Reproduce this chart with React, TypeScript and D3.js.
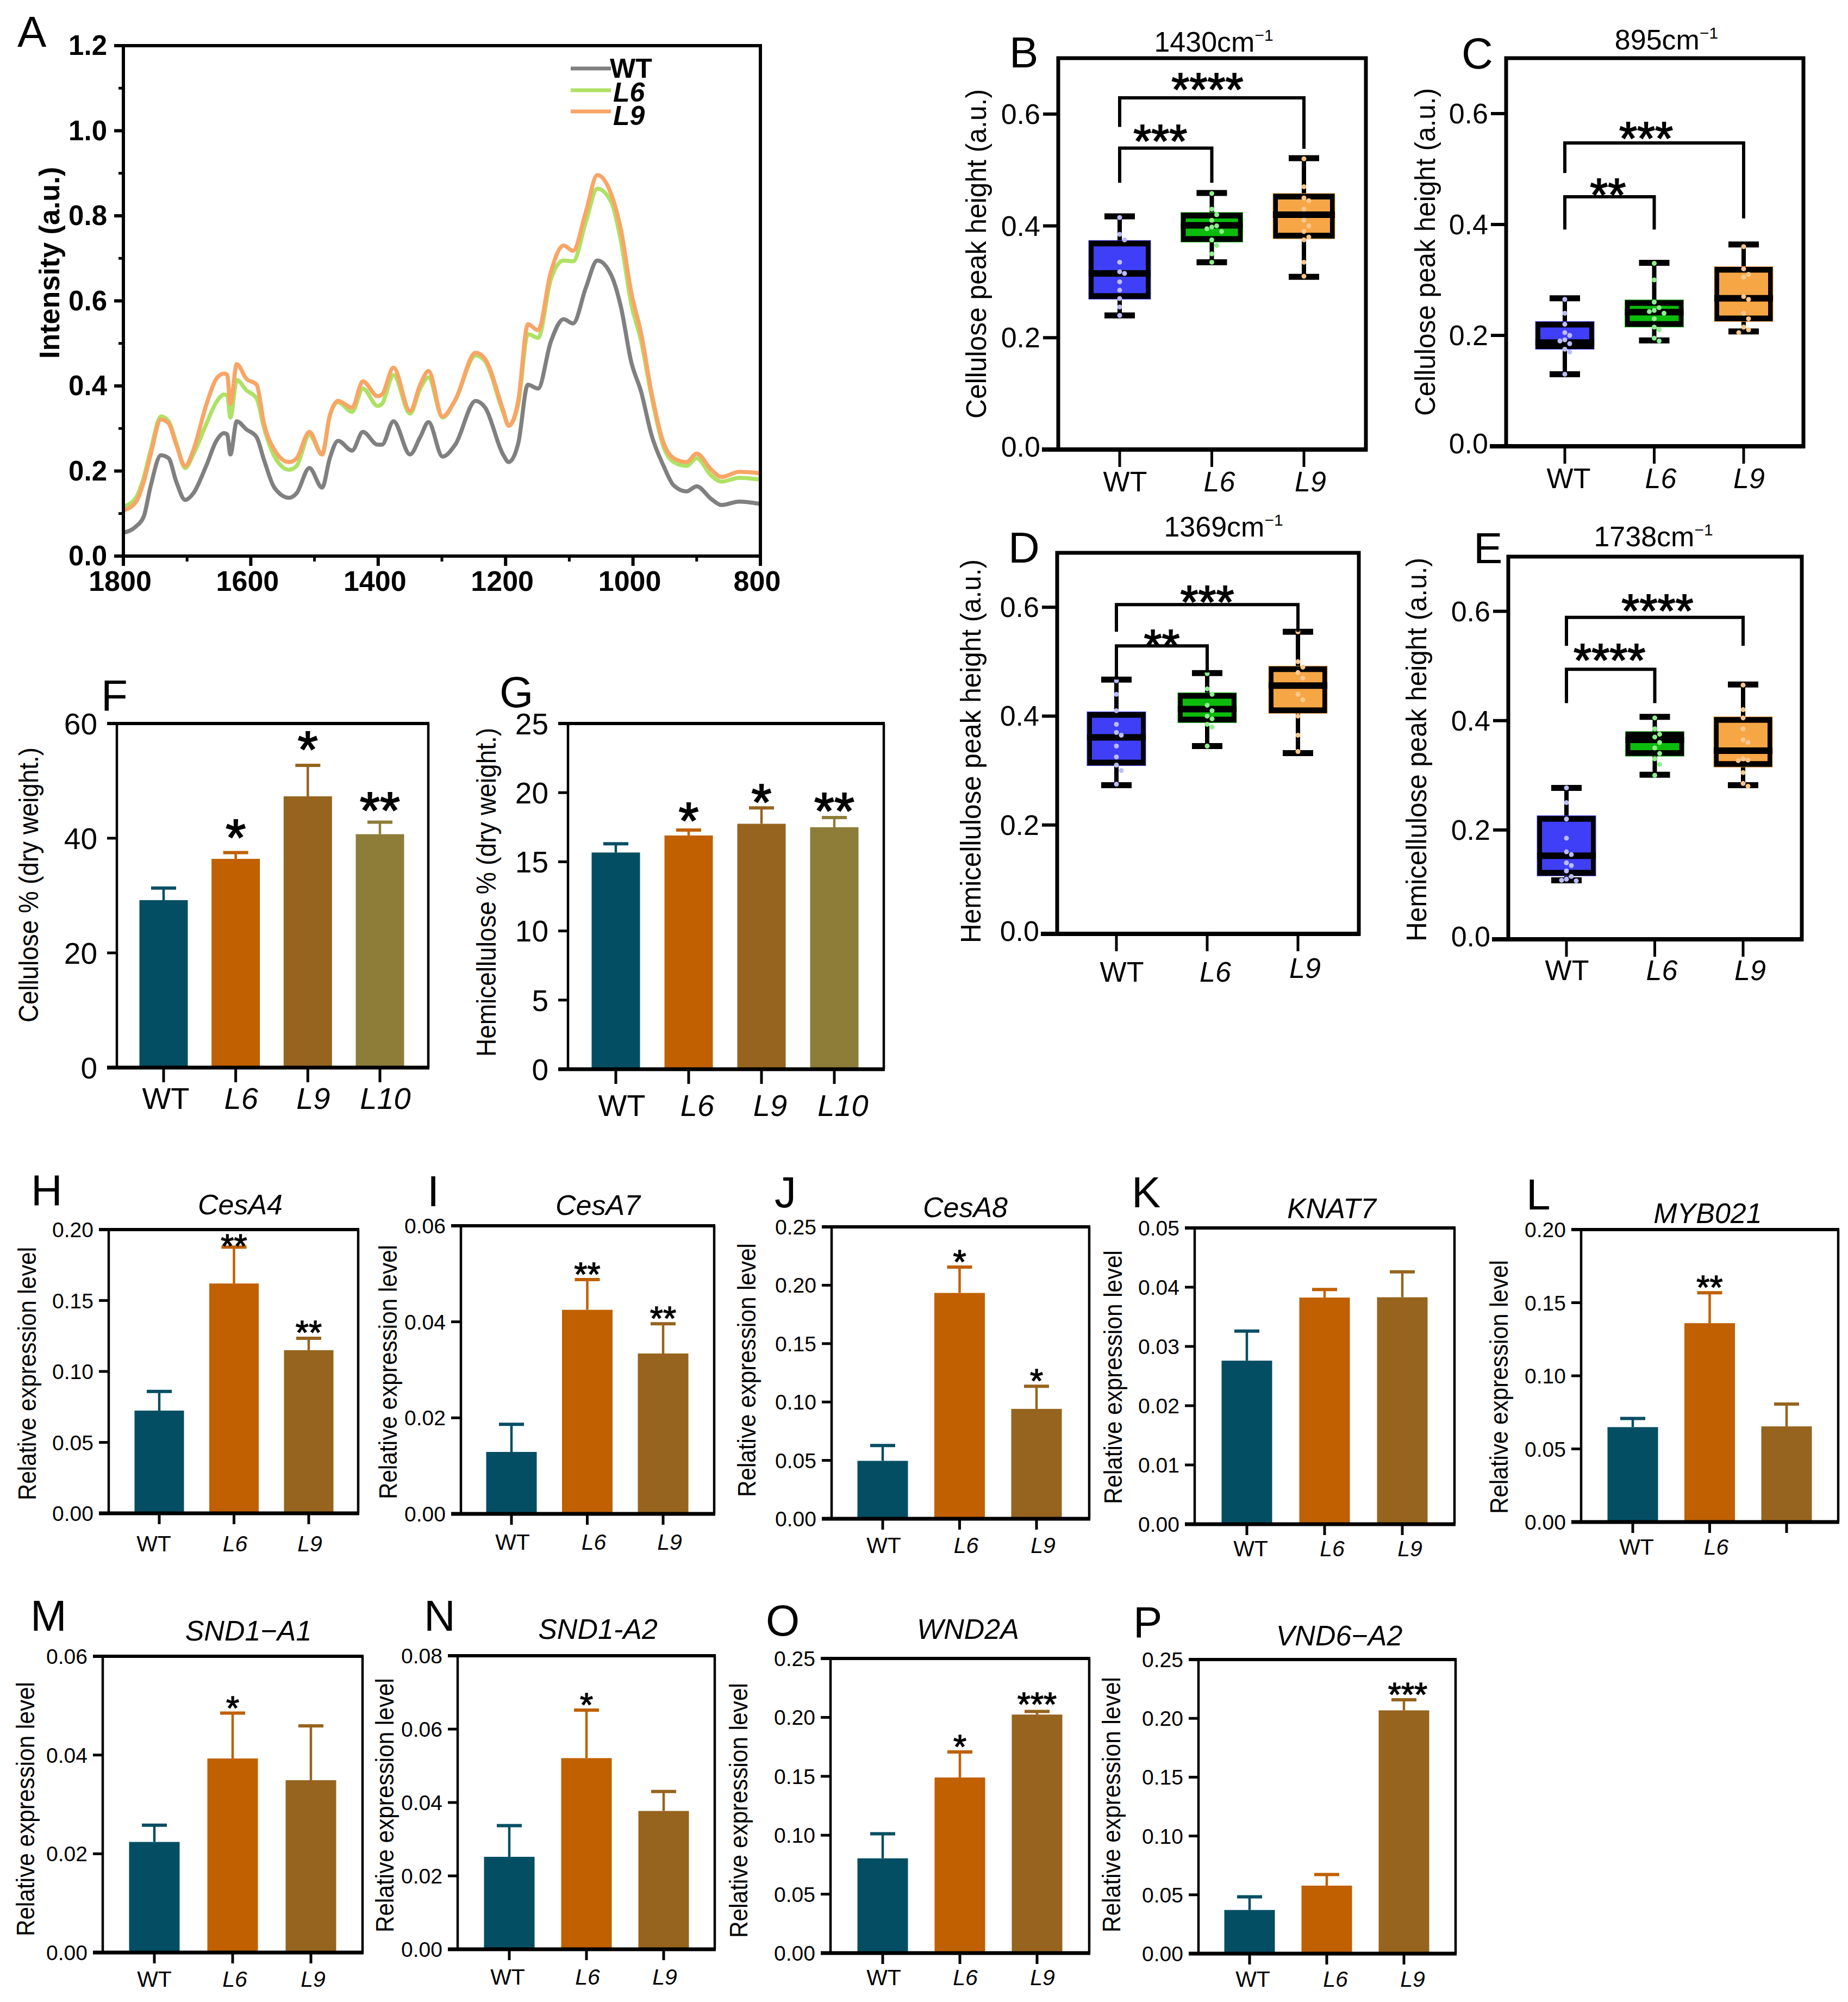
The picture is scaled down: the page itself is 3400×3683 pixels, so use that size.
import React from "react";
import * as d3 from "d3";

const FONT = "'Liberation Sans', Arial, sans-serif";

// ---------- Panel A data ----------
const wavenumbers = [1800,1780,1768,1757,1741,1729,1717,1703,1690,1670,1654,1642,1637,1632,1622,1607,1591,1579,1563,1540,1528,1508,1488,1476,1463,1441,1424,1401,1394,1376,1350,1334,1321,1299,1279,1247,1232,1204,1195,1180,1165,1149,1129,1109,1094,1074,1056,1034,1019,1003,987,971,952,936,916,900,877,861,833,802];
const spectrumWT = [.055,.07,.093,.166,.237,.23,.175,.132,.148,.212,.271,.289,.286,.239,.317,.298,.28,.225,.161,.137,.148,.207,.161,.23,.271,.248,.292,.262,.262,.317,.239,.28,.315,.234,.262,.365,.349,.239,.221,.266,.403,.394,.504,.557,.547,.631,.695,.66,.586,.458,.385,.285,.212,.166,.152,.164,.134,.12,.128,.123];
const spectrumL6 = [.116,.138,.185,.25,.328,.317,.266,.207,.24,.31,.362,.38,.378,.326,.414,.39,.371,.30,.235,.203,.212,.285,.239,.33,.362,.339,.394,.353,.358,.426,.335,.394,.42,.326,.367,.472,.458,.339,.307,.358,.522,.513,.65,.695,.693,.786,.864,.832,.741,.595,.504,.376,.257,.221,.212,.23,.189,.175,.184,.18];
const spectrumL9 = [.107,.128,.175,.24,.321,.312,.262,.212,.25,.355,.417,.429,.426,.358,.451,.417,.403,.31,.25,.221,.23,.292,.239,.33,.365,.349,.411,.376,.38,.443,.341,.403,.435,.328,.367,.478,.463,.344,.306,.367,.545,.531,.668,.73,.718,.809,.896,.85,.768,.622,.522,.385,.266,.23,.221,.241,.203,.186,.198,.195];
const spectrumTicksY = [0,.2,.4,.6,.8,1,1.2];
const spectrumMinorY = [.1,.3,.5,.7,.9,1.1];
const spectrumTicksX = [1800,1600,1400,1200,1000,800];
const spectrumMinorX = [1700,1500,1300,1100,900];

// ---------- Box plots: [low, q1, median, q3, high] per line ----------
const cats3 = ["WT","L6","L9"];
const cats4 = ["WT","L6","L9","L10"];
const boxColors = ["#3f3ff8","#0cbc0c","#f7a645"];
const dotColors = ["#bcbcff","#90ee90","#fac78f"];
const boxTicks = [0,.2,.4,.6];

const b1430Stats = [[.24,.269,.315,.374,.417],[.335,.371,.401,.424,.459],[.309,.377,.42,.458,.521]];
const b1430Dots = [[.415,.385,.375,.335,.318,.315,.3,.285,.27,.255,.24],[.458,.43,.42,.41,.40,.398,.395,.39,.375,.365,.35,.335],[.52,.47,.45,.445,.43,.41,.40,.39,.38,.375,.335,.31]];
const b895Stats = [[.13,.175,.187,.225,.267],[.191,.215,.242,.264,.331],[.207,.225,.267,.324,.364]];
const b895Dots = [[.265,.24,.22,.205,.2,.192,.19,.185,.175,.17,.13],[.33,.3,.26,.25,.245,.243,.24,.23,.215,.21,.195,.19],[.36,.32,.31,.305,.27,.265,.24,.23,.215,.21,.205]];
const b1369Stats = [[.273,.309,.361,.408,.467],[.345,.388,.413,.443,.479],[.332,.405,.456,.492,.555]];
const b1369Dots = [[.465,.44,.41,.385,.37,.365,.345,.325,.31,.3,.275],[.478,.45,.44,.42,.41,.40,.395,.385,.38,.345],[.555,.5,.49,.48,.47,.44,.43,.40,.365,.335]];
const b1738Stats = [[.108,.116,.153,.226,.277],[.301,.335,.365,.38,.407],[.282,.315,.345,.407,.466]];
const b1738Dots = [[.277,.25,.22,.185,.16,.155,.14,.135,.125,.115,.11,.108,.107],[.405,.385,.375,.37,.36,.35,.34,.33,.32,.3],[.465,.42,.405,.385,.365,.36,.33,.328,.327,.305,.285,.28]];

// brackets: [fromIndex, toIndex, top value, left end, right end]
const b1430Brackets = [[0,2,.629,.577,.538],[0,1,.539,.477,.477]];
const b895Brackets = [[0,2,.547,.493,.411],[0,1,.45,.391,.391]];
const b1369Brackets = [[0,2,.605,.555,.555],[0,1,.529,.467,.48]];
const b1738Brackets = [[0,2,.589,.537,.537],[0,1,.494,.432,.432]];
const b1430Marks = ["****","***"];
const b895Marks = ["***","**"];
const b1369Marks = ["***","**"];
const b1738Marks = ["****","****"];

// ---------- Bars: means, errors, significance ----------
const cellMeans = [29.2,36.4,47.3,40.7];
const cellErrs = [2.1,1.1,5.4,2.1];
const cellMarks = ["","*","*","**"];
const cellTicks = [0,20,40,60];
const hemiMeans = [15.67,16.9,17.75,17.5];
const hemiErrs = [.63,.4,1.15,.7];
const hemiMarks = ["","*","*","**"];
const hemiTicks = [0,5,10,15,20,25];

const cesA4Means = [.0724,.162,.115]; const cesA4Errs = [.0135,.0256,.0084]; const cesA4Marks = ["","**","**"];
const cesA7Means = [.0129,.0425,.0334]; const cesA7Errs = [.00575,.0063,.0062]; const cesA7Marks = ["","**","**"];
const cesA8Means = [.0496,.1934,.0941]; const cesA8Errs = [.0131,.0221,.0194]; const cesA8Marks = ["","*","*"];
const knat7Means = [.0276,.03825,.0383]; const knat7Errs = [.005,.00135,.0043]; const knat7Marks = ["","",""];
const myb021Means = [.0649,.136,.0654]; const myb021Errs = [.0059,.0208,.0153]; const myb021Marks = ["","**",""];
const snd1a1Means = [.0224,.0393,.0349]; const snd1a1Errs = [.0034,.0092,.011]; const snd1a1Marks = ["","*",""];
const snd1a2Means = [.0252,.0521,.0377]; const snd1a2Errs = [.0085,.0131,.0053]; const snd1a2Marks = ["","*",""];
const wnd2aMeans = [.0804,.149,.2024]; const wnd2aErrs = [.0209,.0217,.0026]; const wnd2aMarks = ["","*","***"];
const vnd6a2Means = [.0371,.0578,.2068]; const vnd6a2Errs = [.0112,.0094,.009]; const vnd6a2Marks = ["","","***"];

const barColors = ["#034e63","#c06000","#96641e","#8d7d38"];
const ticks020 = [0,.05,.10,.15,.20];
const ticks006 = [0,.02,.04,.06];
const ticks025 = [0,.05,.10,.15,.20,.25];
const ticks005 = [0,.01,.02,.03,.04,.05];
const ticks008 = [0,.02,.04,.06,.08];
const labelsNoL9 = ["WT","L6",""];

const midText = (x: number, cy: number, s: string, fs: number, extra: any = {}) => (
  <text x={x} y={cy + fs * 0.358} fontSize={fs} textAnchor="middle" fontFamily={FONT} fill="#000" {...extra}>{s}</text>
);
const Stars = ({ x, cy, s, fs }: any) => (
  <text x={x} y={cy + fs * 0.52} fontSize={fs} textAnchor="middle" fontFamily={FONT} fill="#000" stroke="#000" strokeWidth={fs * 0.022}>{s}</text>
);
const YLabel = ({ x, y1, y2, s, fs, bold }: any) => (
  <text transform={`translate(${x},${(y1 + y2) / 2}) rotate(-90)`} y={fs * 0.36} textAnchor="middle" fontSize={fs}
    fontFamily={FONT} fontWeight={bold ? 700 : 400} textLength={y2 - y1} lengthAdjust="spacingAndGlyphs" fill="#000">{s}</text>
);
const PanelTag = ({ s, x, y }: any) => (
  <text x={x} y={y} fontSize={80} fontFamily={FONT} fill="#000">{s}</text>
);
const catLabel = (c: string, x: number, cy: number, fs: number, key: any) =>
  <g key={key}>{midText(x, cy, c, fs, { fontStyle: c === "WT" ? "normal" : "italic" })}</g>;

function SpectrumPanel() {
  const L = 227, R = 1399, T = 84, B = 1023;
  const x = d3.scaleLinear().domain([1800, 800]).range([L, R]);
  const y = d3.scaleLinear().domain([0, 1.2]).range([B, T]);
  const line = (vals: number[]) =>
    d3.line<number>().x((_, i) => x(wavenumbers[i])).y(d => y(d)).curve(d3.curveMonotoneX)(vals) || "";
  const series: [number[], string][] = [[spectrumWT, "#808080"], [spectrumL6, "#aee264"], [spectrumL9, "#f8a566"]];
  const legend = [["WT", 126, 143, 1122, "normal", "#808080"], ["L6", 166, 187, 1128, "italic", "#aee264"], ["L9", 205, 230, 1128, "italic", "#f8a566"]] as const;
  return (
    <g>
      {series.map(([v, c], i) => <path key={i} d={line(v)} fill="none" stroke={c} strokeWidth={7.5} strokeLinejoin="round" />)}
      <rect x={L} y={T} width={R - L} height={B - T} fill="none" stroke="#000" strokeWidth={6} />
      {spectrumTicksY.map(t => <g key={t}>
        <line x1={L - 17} x2={L} y1={y(t)} y2={y(t)} stroke="#000" strokeWidth={6} />
        <text x={197} y={y(t) + 17} fontSize={51} fontWeight={700} fontFamily={FONT} textAnchor="end">{t.toFixed(1)}</text>
      </g>)}
      {spectrumMinorY.map(t => <line key={t} x1={L - 9} x2={L} y1={y(t)} y2={y(t)} stroke="#000" strokeWidth={5} />)}
      {spectrumTicksX.map(t => <g key={t}>
        <line x1={x(t)} x2={x(t)} y1={B} y2={B + 18} stroke="#000" strokeWidth={6} />
        <text x={x(t) - 6} y={1087} fontSize={52} fontWeight={700} fontFamily={FONT} textAnchor="middle">{t}</text>
      </g>)}
      {spectrumMinorX.map(t => <line key={t} x1={x(t)} x2={x(t)} y1={B} y2={B + 10} stroke="#000" strokeWidth={5} />)}
      <YLabel x={91} y1={307} y2={660} s="Intensity (a.u.)" fs={51} bold />
      {legend.map(([s, ly, by, tx, st, c]) => <g key={s}>
        <line x1={1050} x2={1124} y1={ly} y2={ly} stroke={c} strokeWidth={7} />
        <text x={tx} y={by} fontSize={50} fontWeight={700} fontStyle={st} fontFamily={FONT}>{s}</text>
      </g>)}
    </g>
  );
}

function dodge(vals: number[], thresh: number, step: number) {
  const placed: { v: number; o: number }[] = [];
  vals.forEach(v => {
    const candidates = [0, step, -step, 2 * step, -2 * step];
    const o = candidates.find(c => !placed.some(p => p.o === c && Math.abs(p.v - v) < thresh));
    placed.push({ v, o: o === undefined ? 0 : o });
  });
  return placed;
}

function BoxPanel({ l, stats, dots, brackets, marks, cats, yLabel, title }: any) {
  const x = d3.scalePoint<string>().domain(cats).range([l.x0, l.x2]);
  const y = d3.scaleLinear().domain([0, .7]).range([l.B, l.T]);
  const bw = l.bw;
  return (
    <g>
      <rect x={l.L} y={l.T} width={l.R - l.L} height={l.B - l.T} fill="none" stroke="#000" strokeWidth={7} />
      <line x1={l.L - 30} x2={l.R + 3} y1={l.B} y2={l.B} stroke="#000" strokeWidth={8} />
      {boxTicks.map(t => <g key={t}>
        <line x1={l.L - 28} x2={l.L} y1={y(t)} y2={y(t)} stroke="#000" strokeWidth={6} />
        <text x={l.L - 33} y={y(t) + 18 - (t === 0 ? 5 : 0)} fontSize={52} fontFamily={FONT} textAnchor="end">{t.toFixed(1)}</text>
      </g>)}
      {cats.map((c: string, i: number) => {
        const cx = x(c)!; const [lo, q1, med, q3, hi] = stats[i];
        return <g key={c}>
          <line x1={cx} x2={cx} y1={l.B} y2={l.B + 32} stroke="#000" strokeWidth={5} />
          {catLabel(c, cx + l.labDx[i], l.labY[i], 52, "l")}
          <line x1={cx} x2={cx} y1={y(hi)} y2={y(lo)} stroke="#000" strokeWidth={8} />
          <line x1={cx - 28} x2={cx + 28} y1={y(hi)} y2={y(hi)} stroke="#000" strokeWidth={11} />
          <line x1={cx - 28} x2={cx + 28} y1={y(lo)} y2={y(lo)} stroke="#000" strokeWidth={11} />
          <rect x={cx - bw / 2} y={y(q3)} width={bw} height={y(q1) - y(q3)} fill="#000" stroke={boxColors[i]} strokeWidth={1} />
          <rect x={cx - bw / 2 + 9} y={y(q3) + 11} width={bw - 18} height={Math.max(0, y(q1) - y(q3) - 22)} fill={boxColors[i]} />
          <line x1={cx - bw / 2} x2={cx + bw / 2} y1={y(med)} y2={y(med)} stroke="#000" strokeWidth={12} />
          {dodge(dots[i], .011, 9).map((p, k) => <circle key={k} cx={cx + p.o} cy={y(p.v)} r={4.5} fill={dotColors[i]} />)}
        </g>;
      })}
      {brackets.map((b: number[], i: number) => {
        const xa = x(cats[b[0]])!, xb = x(cats[b[1]])!;
        const d = `M${xa},${y(b[3])}V${y(b[2])}H${xb}V${y(b[4])}`;
        return <g key={i}>
          <path d={d} fill="none" stroke="#000" strokeWidth={6} />
          <Stars x={(xa + xb) / 2 + l.markDx[i]} cy={y(b[2]) - l.markGap[i]} s={marks[i]} fs={85} />
        </g>;
      })}
      <text x={l.titleX} y={l.titleCy + 17} fontSize={52} fontFamily={FONT} textAnchor="middle">{title}<tspan fontSize={30} dy={-20}>−1</tspan></text>
      <YLabel x={l.yLabX} y1={l.y1} y2={l.y2} s={yLabel} fs={52} />
    </g>
  );
}

function BarPanel({ l, cats, labels, means, errs, marks, ticks, fmt, yLabel, title, fs }: any) {
  const x = d3.scalePoint<string>().domain(cats).range([l.x0, l.xn]);
  const yMax = ticks[ticks.length - 1];
  const y = d3.scaleLinear().domain([0, yMax]).range([l.B, l.T]);
  const bw = l.bw ?? 93;
  return (
    <g>
      {cats.map((c: string, i: number) => {
        const cx = x(c)!; const top = y(means[i]); const capY = y(means[i] + errs[i]);
        const lab = (labels || cats)[i];
        const gap = l.gaps ? l.gaps[i] : 21;
        return <g key={c}>
          <line x1={cx} x2={cx} y1={top} y2={capY} stroke={barColors[i]} strokeWidth={4.5} />
          <line x1={cx - 23} x2={cx + 23} y1={capY} y2={capY} stroke={barColors[i]} strokeWidth={6} />
          <rect x={cx - bw / 2} y={top} width={bw} height={l.B - top} fill={barColors[i]} />
          <line x1={cx} x2={cx} y1={l.B} y2={l.B + l.tickLen} stroke="#000" strokeWidth={5} />
          {lab && catLabel(lab, cx + (lab === "WT" ? l.wtDx : l.lDx), l.labY, fs.cat, "l")}
          {marks[i] && <Stars x={cx + (l.starDx ?? 0)} cy={capY - gap} s={marks[i]} fs={fs.star} />}
        </g>;
      })}
      <line x1={l.L} x2={l.L} y1={l.T} y2={l.B} stroke="#000" strokeWidth={4.5} />
      <line x1={l.R} x2={l.R} y1={l.T} y2={l.B} stroke="#000" strokeWidth={4.5} />
      <line x1={l.L - 18} x2={l.R + 2} y1={l.T} y2={l.T} stroke="#000" strokeWidth={6} />
      <line x1={l.L - 18} x2={l.R + 2} y1={l.B} y2={l.B} stroke="#000" strokeWidth={7} />
      {ticks.map((t: number) => <g key={t}>
        <line x1={l.L - 18} x2={l.L} y1={y(t)} y2={y(t)} stroke="#000" strokeWidth={5} />
        <text x={l.L - fs.tickGap} y={y(t) + fs.tick * .36} fontSize={fs.tick} fontFamily={FONT} textAnchor="end">{fmt(t)}</text>
      </g>)}
      {title && midText(l.titleX, l.titleCy, title, 52, { fontStyle: "italic" })}
      <YLabel x={l.yLabX} y1={l.y1} y2={l.y2} s={yLabel} fs={fs.ylab} />
    </g>
  );
}

const f2 = (t: number) => t.toFixed(2);
const f0 = (t: number) => String(t);
const geneFs = { cat: 41, tick: 39, tickGap: 28, star: 62, ylab: 46 };
const compFs = { cat: 56, tick: 55, tickGap: 36, star: 95, ylab: 50 };
const REL = "Relative expression level";

export default function App() {
  return (
    <svg width={3400} height={3683} viewBox="0 0 3400 3683" style={{ position: "absolute", left: 0, top: 0, display: "block", background: "#fff" }}>
      <SpectrumPanel />
      <BoxPanel stats={b1430Stats} dots={b1430Dots} brackets={b1430Brackets} marks={b1430Marks} cats={cats3} title="1430cm" yLabel="Cellulose peak height (a.u.)"
        l={{ L: 1947, R: 2513, T: 107, B: 827, x0: 2060, x2: 2399, bw: 114, labDx: [10, 14, 12], labY: [885, 885, 885], markDx: [-8, -10], markGap: [30, 28], titleX: 2233, titleCy: 78, yLabX: 1795, y1: 164, y2: 770 }} />
      <BoxPanel stats={b895Stats} dots={b895Dots} brackets={b895Brackets} marks={b895Marks} cats={cats3} title="895cm" yLabel="Cellulose peak height (a.u.)"
        l={{ L: 2771, R: 3318, T: 107, B: 821, x0: 2879, x2: 3208, bw: 108, labDx: [7, 12, 10], labY: [879, 879, 879], markDx: [-15, -3], markGap: [23, 18], titleX: 3066, titleCy: 74, yLabX: 2621, y1: 162, y2: 765 }} />
      <BoxPanel stats={b1369Stats} dots={b1369Dots} brackets={b1369Brackets} marks={b1369Marks} cats={cats3} title="1369cm" yLabel="Hemicellulose peak height (a.u.)"
        l={{ L: 1945, R: 2500, T: 1017, B: 1718, x0: 2054, x2: 2388, bw: 108, labDx: [10, 15, 13], labY: [1787, 1787, 1780], markDx: [0, 0], markGap: [19, 14], titleX: 2251, titleCy: 970, yLabX: 1785, y1: 1029, y2: 1735 }} />
      <BoxPanel stats={b1738Stats} dots={b1738Dots} brackets={b1738Brackets} marks={b1738Marks} cats={cats3} title="1738cm" yLabel="Hemicellulose peak height (a.u.)"
        l={{ L: 2775, R: 3315, T: 1024, B: 1728, x0: 2882, x2: 3207, bw: 108, labDx: [1, 13, 13], labY: [1784, 1784, 1784], markDx: [5, -2], markGap: [27, 31], titleX: 3042, titleCy: 988, yLabX: 2605, y1: 1026, y2: 1732 }} />

      <BarPanel cats={cats4} means={cellMeans} errs={cellErrs} marks={cellMarks} ticks={cellTicks} fmt={f0} yLabel="Cellulose % (dry weight.)" fs={compFs}
        l={{ L: 215, R: 788, T: 1331, B: 1964, x0: 301, xn: 699, bw: 89, tickLen: 27, wtDx: 4, lDx: 10, labY: 2020, gaps: [0, 45, 46, 39], yLabX: 52, y1: 1375, y2: 1881 }} />
      <BarPanel cats={cats4} means={hemiMeans} errs={hemiErrs} marks={hemiMarks} ticks={hemiTicks} fmt={f0} yLabel="Hemicellulose % (dry weight.)" fs={compFs}
        l={{ L: 1045, R: 1626, T: 1331, B: 1967, x0: 1133, xn: 1535, bw: 89, tickLen: 27, wtDx: 11, lDx: 16, labY: 2033, gaps: [0, 34, 28, 29], yLabX: 894, y1: 1339, y2: 1944 }} />

      <BarPanel cats={cats3} means={cesA4Means} errs={cesA4Errs} marks={cesA4Marks} ticks={ticks020} fmt={f2} yLabel={REL} title="CesA4" fs={geneFs}
        l={{ L: 200, R: 659, T: 2262, B: 2784, x0: 293, xn: 568, bw: 91, tickLen: 20, wtDx: -10, lDx: 2, labY: 2839, gaps: [0, 14, 22], titleX: 442, titleCy: 2215, yLabX: 49, y1: 2294, y2: 2760 }} />
      <BarPanel cats={cats3} means={cesA7Means} errs={cesA7Errs} marks={cesA7Marks} ticks={ticks006} fmt={f2} yLabel={REL} title="CesA7" fs={geneFs}
        l={{ L: 848, R: 1314, T: 2255, B: 2785, x0: 941, xn: 1220, tickLen: 20, wtDx: 2, lDx: 12, labY: 2836, titleX: 1100, titleCy: 2216, yLabX: 713, y1: 2290, y2: 2758 }} />
      <BarPanel cats={cats3} means={cesA8Means} errs={cesA8Errs} marks={cesA8Marks} ticks={ticks025} fmt={f2} yLabel={REL} title="CesA8" fs={geneFs}
        l={{ L: 1530, R: 2004, T: 2257, B: 2794, x0: 1624, xn: 1907, tickLen: 20, wtDx: 2, lDx: 12, labY: 2842, titleX: 1776, titleCy: 2220, yLabX: 1373, y1: 2287, y2: 2754 }} />
      <BarPanel cats={cats3} means={knat7Means} errs={knat7Errs} marks={knat7Marks} ticks={ticks005} fmt={f2} yLabel={REL} title="KNAT7" fs={geneFs}
        l={{ L: 2198, R: 2676, T: 2259, B: 2804, x0: 2294, xn: 2580, tickLen: 20, wtDx: 7, lDx: 14, labY: 2848, titleX: 2450, titleCy: 2222, yLabX: 2047, y1: 2300, y2: 2767 }} />
      <BarPanel cats={cats3} labels={labelsNoL9} means={myb021Means} errs={myb021Errs} marks={myb021Marks} ticks={ticks020} fmt={f2} yLabel={REL} title="MYB021" fs={geneFs}
        l={{ L: 2909, R: 3382, T: 2262, B: 2800, x0: 3004, xn: 3287, tickLen: 20, wtDx: 7, lDx: 12, labY: 2845, titleX: 3142, titleCy: 2231, yLabX: 2757, y1: 2318, y2: 2785 }} />

      <BarPanel cats={cats3} means={snd1a1Means} errs={snd1a1Errs} marks={snd1a1Marks} ticks={ticks006} fmt={f2} yLabel={REL} title="SND1−A1" fs={geneFs}
        l={{ L: 189, R: 667, T: 3047, B: 3592, x0: 284, xn: 572, tickLen: 20, wtDx: 0, lDx: 4, labY: 3640, titleX: 457, titleCy: 2999, yLabX: 46, y1: 3094, y2: 3562 }} />
      <BarPanel cats={cats3} means={snd1a2Means} errs={snd1a2Errs} marks={snd1a2Marks} ticks={ticks008} fmt={f2} yLabel={REL} title="SND1-A2" fs={geneFs}
        l={{ L: 842, R: 1315, T: 3046, B: 3586, x0: 937, xn: 1221, tickLen: 20, wtDx: -3, lDx: 2, labY: 3636, titleX: 1100, titleCy: 2996, yLabX: 707, y1: 3087, y2: 3555 }} />
      <BarPanel cats={cats3} means={wnd2aMeans} errs={wnd2aErrs} marks={wnd2aMarks} ticks={ticks025} fmt={f2} yLabel={REL} title="WND2A" fs={geneFs}
        l={{ L: 1528, R: 2004, T: 3051, B: 3593, x0: 1624, xn: 1908, tickLen: 20, wtDx: 2, lDx: 10, labY: 3637, gaps: [0, 21, 25], titleX: 1781, titleCy: 2996, yLabX: 1358, y1: 3096, y2: 3565 }} />
      <BarPanel cats={cats3} means={vnd6a2Means} errs={vnd6a2Errs} marks={vnd6a2Marks} ticks={ticks025} fmt={f2} yLabel={REL} title="VND6−A2" fs={geneFs}
        l={{ L: 2205, R: 2678, T: 3053, B: 3594, x0: 2299, xn: 2583, tickLen: 20, wtDx: 6, lDx: 16, labY: 3640, starDx: 7, titleX: 2464, titleCy: 3008, yLabX: 2044, y1: 3085, y2: 3555 }} />

      {([["A",32,86],["B",1857,124],["C",2689,126],["D",1855,1035],["E",2711,1036],["F",186,1307],["G",919,1301],["H",57,2217],["I",786,2219],["J",1425,2221],["K",2082,2221],["L",2808,2225],["M",56,3000],["N",780,3000],["O",1409,3009],["P",2085,3012]] as [string,number,number][]).map(([s,x,y]) => <PanelTag key={s} s={s} x={x} y={y} />)}
    </svg>
  );
}
